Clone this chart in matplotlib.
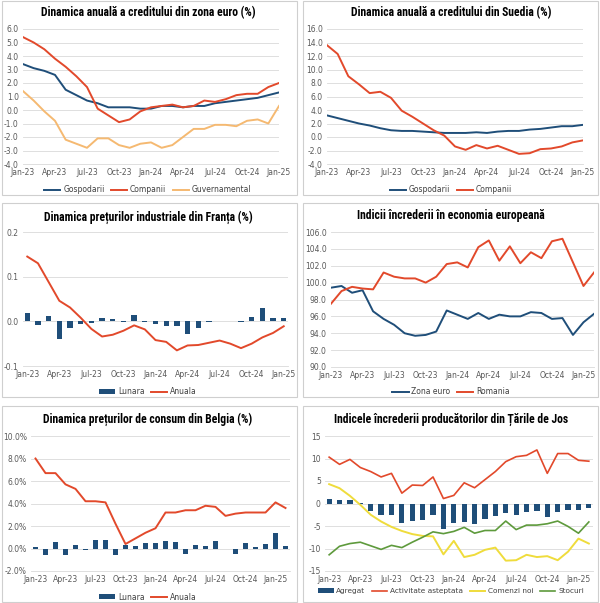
import numpy as np
import matplotlib
matplotlib.use("Agg")
import matplotlib.pyplot as plt
from matplotlib.patches import Rectangle

# --- data -----------------------------------------------------------------
luni_ticks = ["Jan-23", "Apr-23", "Jul-23", "Oct-23", "Jan-24",
              "Apr-24", "Jul-24", "Oct-24", "Jan-25"]

# Dinamica anuala a creditului din zona euro (Jan-23 .. Jan-25)
ez_gosp = [3.4, 3.1, 2.9, 2.6, 1.5, 1.1, 0.7, 0.5, 0.2, 0.2, 0.2, 0.1, 0.1,
           0.3, 0.3, 0.2, 0.3, 0.3, 0.5, 0.6, 0.7, 0.8, 0.9, 1.1, 1.3]
ez_comp = [5.4, 5.0, 4.5, 3.8, 3.2, 2.5, 1.7, 0.1, -0.4, -0.9, -0.7, -0.1, 0.2,
           0.3, 0.4, 0.2, 0.3, 0.7, 0.6, 0.8, 1.1, 1.2, 1.2, 1.7, 2.0]
ez_guv = [1.4, 0.7, -0.1, -0.8, -2.2, -2.5, -2.8, -2.1, -2.1, -2.6, -2.8, -2.5, -2.4,
          -2.8, -2.6, -2.0, -1.4, -1.4, -1.1, -1.1, -1.2, -0.8, -0.7, -1.0, 0.3]

# Dinamica anuala a creditului din Suedia
se_gosp = [3.2, 2.8, 2.4, 2.0, 1.7, 1.3, 1.0, 0.9, 0.9, 0.8, 0.7, 0.6, 0.6,
           0.6, 0.7, 0.6, 0.8, 0.9, 0.9, 1.1, 1.2, 1.4, 1.6, 1.6, 1.8]
se_comp = [13.6, 12.3, 9.0, 7.8, 6.5, 6.7, 5.8, 3.9, 3.0, 2.0, 1.0, 0.2, -1.4,
           -1.9, -1.2, -1.7, -1.3, -1.9, -2.5, -2.4, -1.8, -1.7, -1.4, -0.8, -0.5]

# Dinamica preturilor industriale din Franta
fr_lunara = [0.018, -0.008, 0.011, -0.040, -0.015, -0.007, -0.003, 0.007, 0.006,
             -0.001, 0.015, -0.001, -0.007, -0.011, -0.010, -0.028, -0.014, -0.001,
             0.001, 0.0, -0.002, 0.010, 0.030, 0.007, 0.008]
fr_anuala = [0.145, 0.130, 0.088, 0.046, 0.031, 0.008, -0.017, -0.034, -0.030,
             -0.021, -0.009, -0.018, -0.042, -0.046, -0.065, -0.054, -0.053, -0.048,
             -0.043, -0.050, -0.060, -0.050, -0.036, -0.026, -0.011]

# Indicii increderii in economia europeana (Jan-23 .. Feb-25)
ci_euro = [99.4, 99.6, 98.8, 99.1, 96.6, 95.7, 95.0, 94.0, 93.7, 93.8, 94.2, 96.7, 96.2,
           95.7, 96.4, 95.7, 96.2, 96.0, 96.0, 96.5, 96.4, 95.7, 95.8, 93.8, 95.3, 96.3]
ci_ro = [97.5, 99.0, 99.5, 99.3, 99.2, 101.2, 100.7, 100.5, 100.5, 100.0, 100.7, 102.2, 102.4,
         101.8, 104.2, 105.0, 102.6, 104.3, 102.3, 103.6, 102.9, 104.9, 105.2, 102.4, 99.6, 101.2]

# Dinamica preturilor de consum din Belgia (%)
be_lunara = [0.1, -0.6, 0.55, -0.6, 0.35, -0.1, 0.8, 0.75, -0.6, 0.35, 0.2, 0.45, 0.5,
             0.7, 0.55, -0.45, 0.35, 0.2, 0.7, 0.0, -0.45, 0.5, 0.15, 0.4, 1.4, 0.2]
be_anuala = [8.0, 6.7, 6.7, 5.7, 5.3, 4.2, 4.2, 4.1, 2.2, 0.4, 0.9, 1.4, 1.8,
             3.2, 3.2, 3.4, 3.4, 3.8, 3.7, 2.9, 3.1, 3.2, 3.2, 3.2, 4.1, 3.6]

# Indicele increderii producatorilor din Tarile de Jos
nl_agregat = [1.0, 0.8, 0.8, 0.1, -1.7, -2.6, -2.6, -4.4, -3.8, -3.6, -2.5, -5.6, -4.3,
              -4.1, -4.6, -3.4, -2.7, -2.2, -2.5, -1.8, -1.6, -3.0, -1.8, -1.5, -1.5, -1.1]
nl_activ = [10.3, 8.7, 9.8, 8.0, 7.1, 5.9, 6.7, 2.3, 4.1, 4.0, 5.9, 1.1, 1.8,
            4.6, 3.5, 5.3, 7.1, 9.3, 10.4, 10.7, 11.9, 6.7, 11.1, 11.1, 9.6, 9.4]
nl_comenzi = [4.3, 3.4, 1.7, -0.3, -2.5, -4.0, -5.2, -6.1, -6.8, -7.2, -7.3, -11.3, -8.3,
              -11.9, -11.4, -10.3, -9.8, -12.7, -12.6, -11.4, -11.9, -11.7, -12.6, -10.7, -7.8, -8.9]
nl_stocuri = [-11.4, -9.5, -8.9, -8.6, -9.4, -10.2, -9.3, -9.8, -8.6, -7.5, -6.3, -6.7, -6.2,
              -5.3, -6.6, -6.0, -6.0, -3.9, -5.8, -4.8, -4.8, -4.5, -3.9, -5.1, -6.6, -4.1]

# --- style ----------------------------------------------------------------
BLUE = "#1f4e79"
RED = "#e2492b"
LORANGE = "#f5b971"
YELLOW = "#efdc3c"
GREEN = "#5e9a3c"
GRID = "#d9d9d9"
TXT = "#595959"
TITLE_FONT = ["Roboto Condensed", "Liberation Sans Narrow", "Roboto", "DejaVu Sans"]

W, H = 600, 603
fig = plt.figure(figsize=(W / 100, H / 100), dpi=100)
fig.patch.set_facecolor("white")


def px_axes(left, top, right, bottom):
    return fig.add_axes([left / W, 1 - bottom / H, (right - left) / W, (bottom - top) / H])


def panel_box(left, top, right, bottom):
    fig.patches.append(Rectangle((left / W, 1 - bottom / H), (right - left) / W,
                                 (bottom - top) / H, transform=fig.transFigure,
                                 fill=False, edgecolor="#cfcfcf", lw=0.8))


def title(x, y, text, size=8.4):
    fig.text(x / W, 1 - y / H, text, ha="center", va="center", fontsize=size,
             fontweight="bold", family=TITLE_FONT, color="black")


def style(ax, xlim, ylim, yticks, fmt):
    ax.set_xlim(*xlim)
    ax.set_ylim(*ylim)
    ax.set_yticks(yticks)
    ax.set_yticklabels([fmt(v) for v in yticks])
    ax.set_xticks(range(0, 25, 3))
    ax.set_xticklabels(luni_ticks)
    ax.tick_params(length=0, labelsize=5.5, labelcolor=TXT, pad=3)
    ax.grid(axis="y", color=GRID, lw=0.6)
    ax.set_axisbelow(True)
    for s in ["top", "right", "left"]:
        ax.spines[s].set_visible(False)
    ax.spines["bottom"].set_color(GRID)
    ax.spines["bottom"].set_linewidth(0.6)


def legend(handles, x, y, ncol, size=5.5):
    fig.legend(handles, [h.get_label() for h in handles], loc="center", ncol=ncol,
               bbox_to_anchor=(x / W, 1 - y / H), frameon=False, fontsize=size,
               handlelength=2.1, handleheight=0.6, columnspacing=0.9,
               handletextpad=0.35, labelcolor="#404040")


one = lambda v: f"{v:.1f}"

# panel borders
panel_box(2, 1, 297, 195)
panel_box(303, 1, 598, 195)
panel_box(2, 203, 297, 397)
panel_box(303, 203, 598, 397)
panel_box(2, 406, 297, 602)
panel_box(303, 406, 598, 602)

# 1. zona euro
x25 = np.arange(25)
ax = px_axes(23, 29, 279, 164)
l1, = ax.plot(x25, ez_gosp, color=BLUE, lw=1.4, label="Gospodarii")
l2, = ax.plot(x25, ez_comp, color=RED, lw=1.4, label="Companii")
l3, = ax.plot(x25, ez_guv, color=LORANGE, lw=1.4, label="Guvernamental")
style(ax, (0, 24), (-4, 6), np.arange(-4, 7, 1), one)
title(148, 13, "Dinamica anuală a creditului din zona euro (%)")
legend([l1, l2, l3], 148, 190, 3)

# 2. Suedia
ax = px_axes(327, 29, 583, 164)
l1, = ax.plot(x25, se_gosp, color=BLUE, lw=1.4, label="Gospodarii")
l2, = ax.plot(x25, se_comp, color=RED, lw=1.4, label="Companii")
style(ax, (0, 24), (-4, 16), np.arange(-4, 17, 2), one)
title(451, 13, "Dinamica anuală a creditului din Suedia (%)")
legend([l1, l2], 451, 190, 2)

# 3. Franta
ax = px_axes(23, 232, 288, 366)
b = ax.bar(x25, fr_lunara, width=0.5, color=BLUE, label="Lunara")
l1, = ax.plot(x25, fr_anuala, color=RED, lw=1.4, label="Anuala")
style(ax, (-0.4, 24.4), (-0.1, 0.2), [-0.1, 0.0, 0.1, 0.2], one)
title(148, 217, "Dinamica prețurilor industriale din Franța (%)")
legend([b, l1], 148, 392, 2)

# 4. incredere
x26 = np.arange(26)
ax = px_axes(331, 232, 594, 367)
l1, = ax.plot(x26, ci_euro, color=BLUE, lw=1.4, label="Zona euro")
l2, = ax.plot(x26, ci_ro, color=RED, lw=1.4, label="Romania")
style(ax, (0, 25), (90, 106), np.arange(90, 107, 2), one)
title(451, 216, "Indicii încrederii în economia europeană")
legend([l1, l2], 451, 392, 2)

# 5. Belgia
ax = px_axes(31, 436, 290, 571)
b = ax.bar(x26, be_lunara, width=0.5, color=BLUE, label="Lunara")
l1, = ax.plot(x26, be_anuala, color=RED, lw=1.4, label="Anuala")
style(ax, (-0.45, 25.45), (-2, 10), np.arange(-2, 11, 2), lambda v: f"{v:.1f}%")
title(148, 419, "Dinamica prețurilor de consum din Belgia (%)")
legend([b, l1], 148, 597, 2)

# 6. Tarile de Jos
ax = px_axes(325, 436, 593, 571)
b = ax.bar(x26, nl_agregat, width=0.5, color=BLUE, label="Agregat")
l1, = ax.plot(x26, nl_activ, color=RED, lw=1.2, label="Activitate asteptata")
l2, = ax.plot(x26, nl_comenzi, color=YELLOW, lw=1.4, label="Comenzi noi")
l3, = ax.plot(x26, nl_stocuri, color=GREEN, lw=1.2, label="Stocuri")
style(ax, (-0.4, 25.4), (-15, 15), np.arange(-15, 16, 5), lambda v: f"{v:.0f}")
title(451, 419, "Indicele încrederii producătorilor din Țările de Jos")
legend([b, l1, l2, l3], 451, 591, 4, size=5.3)

fig.savefig("out.png", dpi=100, facecolor="white")
